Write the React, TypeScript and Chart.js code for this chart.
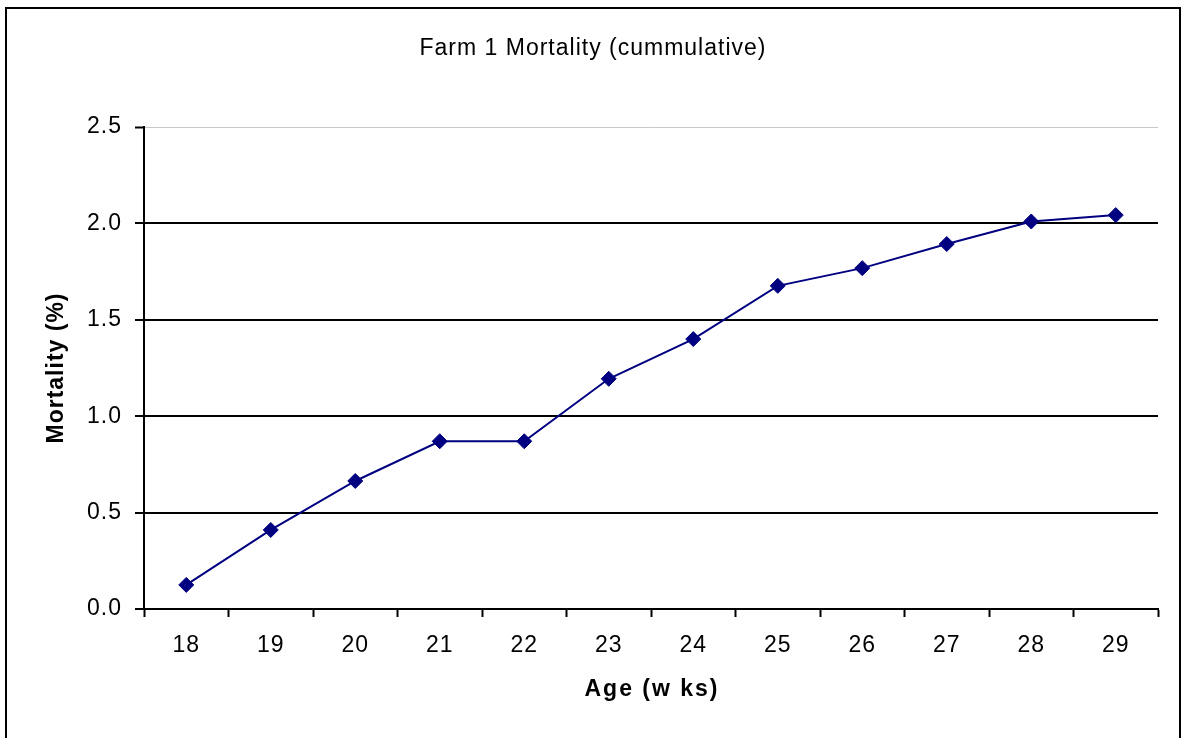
import React, { useEffect, useRef } from "react";
import { Chart, registerables } from "chart.js";

Chart.register(...registerables);

const chartTitle = "Farm 1 Mortality (cummulative)";
const xAxisTitle = "Age (w ks)";
const yAxisTitle = "Mortality (%)";
const ageWeeks = ["18", "19", "20", "21", "22", "23", "24", "25", "26", "27", "28", "29"];
const mortality = [0.125, 0.41, 0.664, 0.87, 0.87, 1.194, 1.4, 1.676, 1.768, 1.893, 2.01, 2.043];
const yMin = 0;
const yMax = 2.5;
const yStep = 0.5;

const FONT = "'Liberation Sans', Arial, sans-serif";

const spacingPlugin = {
  id: "spacing",
  beforeDraw(chart: any) {
    chart.ctx.letterSpacing = "1px";
  },
  afterDraw(chart: any) {
    const ctx = chart.ctx;
    ctx.save();
    ctx.fillStyle = "#000";
    ctx.textAlign = "center";
    ctx.textBaseline = "middle";
    // chart title, centred on the whole frame
    ctx.letterSpacing = "1px";
    ctx.font = "normal 23px " + FONT;
    ctx.fillText(chartTitle, 593, 48.5);
    // x axis title with wider tracking, as in the reference
    const xs = chart.scales.x;
    ctx.letterSpacing = "2px";
    ctx.font = "bold 23px " + FONT;
    ctx.fillText(xAxisTitle, (xs.left + xs.right) / 2 + 1, 690);
    // outer frame
    ctx.letterSpacing = "0px";
    ctx.strokeStyle = "#000";
    ctx.lineWidth = 2;
    ctx.strokeRect(6, 8, 1174, 800);
    ctx.restore();
    ctx.letterSpacing = "0px";
  },
};

export default function App() {
  const ref = useRef<HTMLCanvasElement | null>(null);
  useEffect(() => {
    if (!ref.current) return;
    const chart = new Chart(ref.current, {
      type: "line",
      data: {
        labels: ageWeeks,
        datasets: [
          {
            data: mortality,
            borderColor: "#000080",
            backgroundColor: "#000080",
            borderWidth: 2,
            pointStyle: "rectRot",
            pointRadius: 7.5,
            pointBorderWidth: 1,
            pointBackgroundColor: "#000080",
            pointBorderColor: "#000080",
            tension: 0,
          },
        ],
      },
      options: {
        animation: false,
        responsive: true,
        maintainAspectRatio: false,
        layout: { padding: { left: 0, right: 24, top: 127, bottom: 0 } },
        plugins: {
          legend: { display: false },
          tooltip: { enabled: false },
          title: { display: false, text: chartTitle },
        },
        scales: {
          x: {
            type: "category",
            offset: true,
            afterFit: (s: any) => {
              s.height = 129;
            },
            border: { display: true, color: "#000", width: 2 },
            grid: {
              offset: true,
              drawOnChartArea: false,
              drawTicks: true,
              tickLength: 8,
              tickWidth: 2,
              tickColor: "#000",
            },
            ticks: {
              color: "#000",
              font: { family: FONT, size: 23 },
              padding: 15,
              maxRotation: 0,
              autoSkip: false,
            },
            title: { display: false, text: xAxisTitle },
          },
          y: {
            min: yMin,
            max: yMax,
            afterFit: (s: any) => {
              s.width = 144;
            },
            border: { display: true, color: "#000", width: 2 },
            grid: {
              color: (c: any) => (c.tick && c.tick.value === yMax ? "#c8c8c8" : "#000"),
              lineWidth: (c: any) => (c.tick && c.tick.value === yMax ? 1 : 2),
              tickColor: "#000",
              tickWidth: 2,
              tickLength: 9,
            },
            ticks: {
              stepSize: yStep,
              color: "#000",
              font: { family: FONT, size: 23 },
              padding: 13,
              callback: (v: any) => Number(v).toFixed(1),
            },
            title: {
              display: true,
              text: yAxisTitle,
              color: "#000",
              font: { family: FONT, size: 23, weight: "bold" },
              padding: { top: 43, bottom: 0 },
            },
          },
        },
      },
      plugins: [spacingPlugin],
    });
    return () => chart.destroy();
  }, []);

  return (
    <div style={{ position: "absolute", left: 0, top: 0, width: 1182, height: 738, background: "#fff" }}>
      <canvas ref={ref} />
    </div>
  );
}
